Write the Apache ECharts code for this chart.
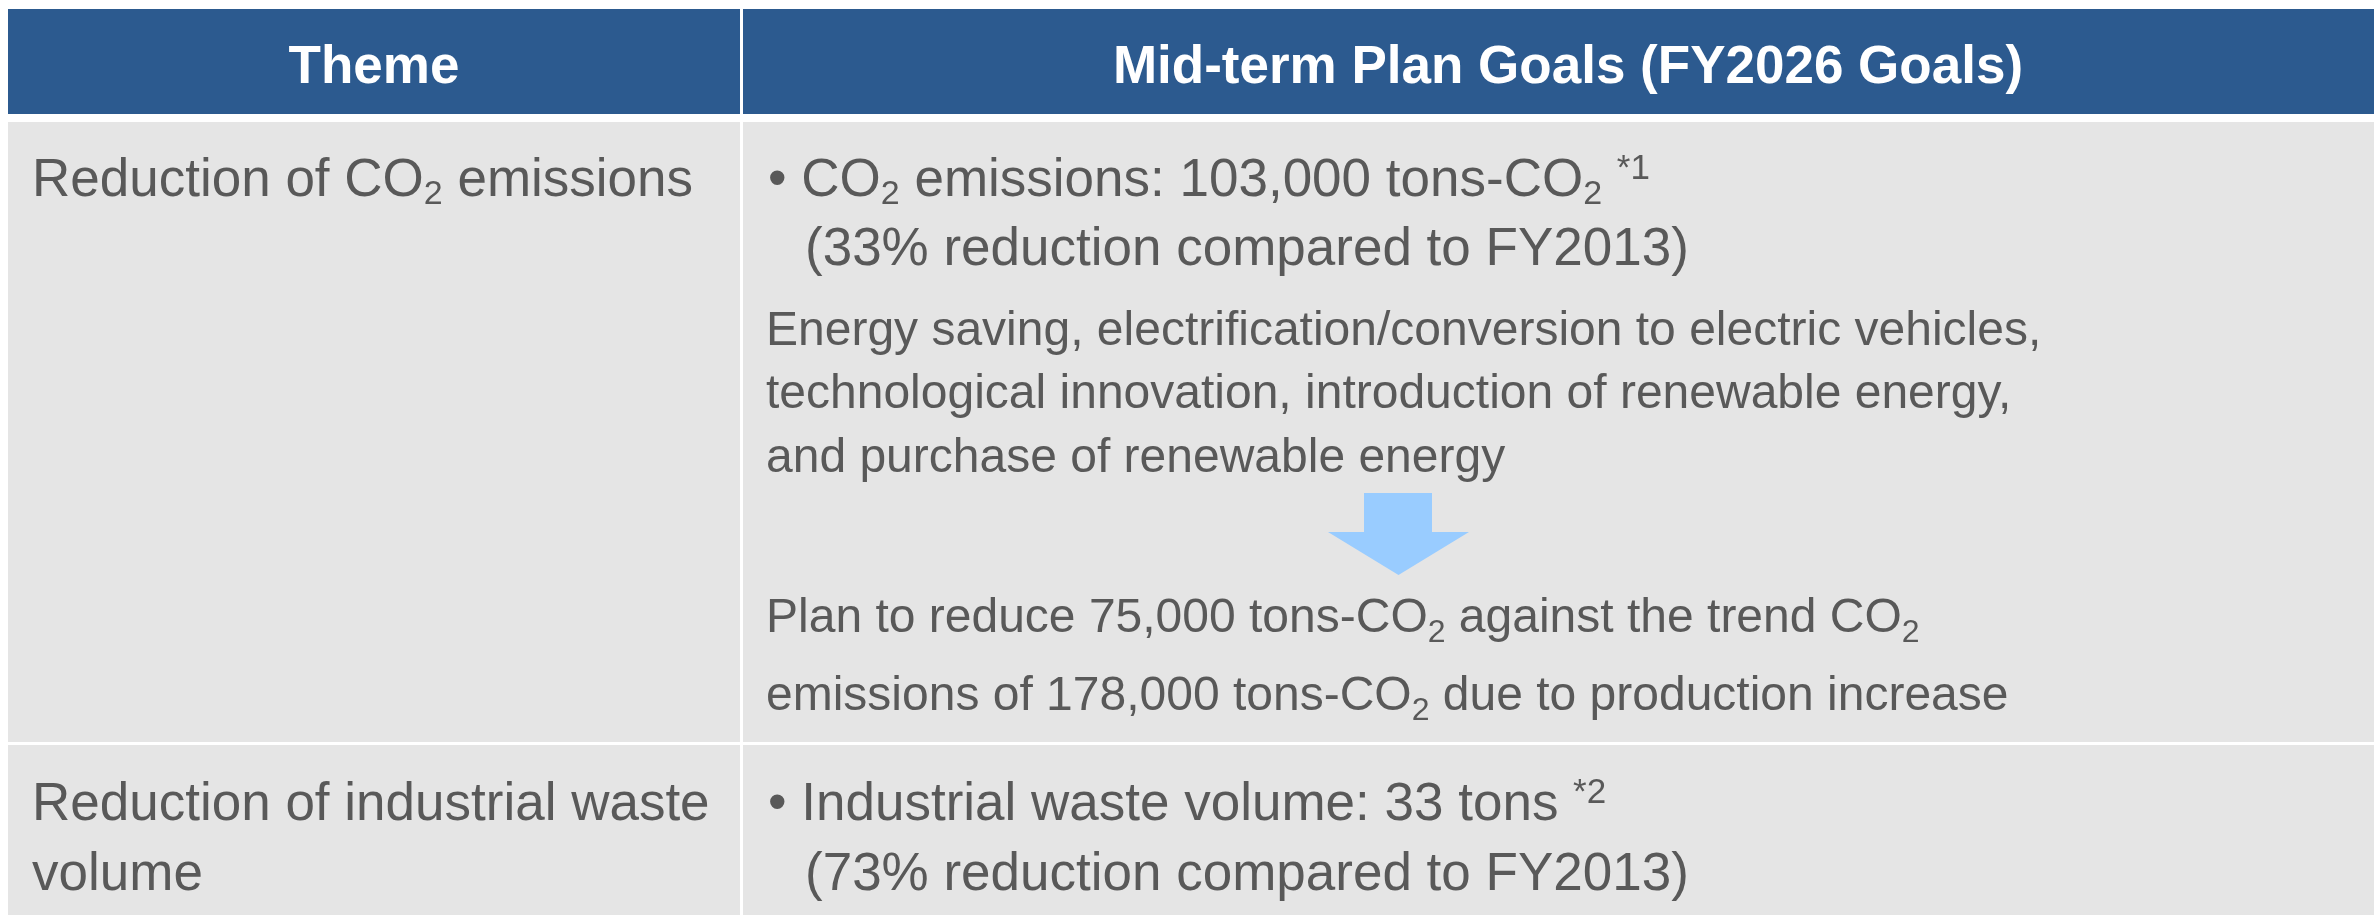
<!DOCTYPE html>
<html>
<head>
<meta charset="utf-8">
<script src="https://cdn.jsdelivr.net/npm/echarts@6/dist/echarts.min.js"></script>
<style>
  html, body { margin: 0; padding: 0; background: #fff; }
  #main { width: 2374px; height: 915px; }
</style>
</head>
<body>
<div id="main"></div>
<script>
// table content ({s|..} = subscript, {p|..} = superscript note)
var headers = ['Theme', 'Mid-term Plan Goals (FY2026 Goals)'];
var themeCo2 = ['Reduction of CO{s|2} emissions'];
var themeWaste = ['Reduction of industrial waste', 'volume'];
var goalCo2 = ['CO{s|2} emissions: 103,000 tons-CO{s|2} {p|*1}', '(33% reduction compared to FY2013)'];
var measures = [
  'Energy saving, electrification/conversion to electric vehicles,',
  'technological innovation, introduction of renewable energy,',
  'and purchase of renewable energy'
];
var planLines = [
  'Plan to reduce 75,000 tons-CO{s|2} against the trend CO{s|2}',
  'emissions of 178,000 tons-CO{s|2} due to production increase'
];
var goalWaste = ['Industrial waste volume: 33 tons {p|*2}', '(73% reduction compared to FY2013)'];

// layout
var FONT = '"Liberation Sans", Arial, sans-serif';
var TEXT = '#595959';
var HEAD = '#2C5A8F';
var CELL = '#E5E5E5';
var W = 2374;
var colLeft = 8, colSplit = 740, colRight = 743;
var headTop = 9, headBottom = 114, row1Top = 122, row1Bottom = 742, row2Top = 745, row2Bottom = 915;

function rich(size) {
  var big = size > 50;
  return {
    s: { fontSize: big ? 34 : 32, fontFamily: FONT, fill: TEXT, verticalAlign: 'bottom', lineHeight: big ? 17 : 19 },
    p: { fontSize: 35, fontFamily: FONT, fill: TEXT, verticalAlign: 'top', lineHeight: 39 }
  };
}

function line(x, y, text, size) {
  return {
    type: 'text', x: x, y: y, silent: true,
    style: {
      text: text, fontSize: size, fontFamily: FONT, fill: TEXT,
      align: 'left', verticalAlign: 'middle', lineHeight: 60,
      rich: rich(size)
    }
  };
}

function rect(x, y, w, h, color) {
  return { type: 'rect', silent: true, shape: { x: x, y: y, width: w, height: h }, style: { fill: color } };
}

var els = [];
// cells
els.push(rect(colLeft, headTop, colSplit - colLeft, headBottom - headTop, HEAD));
els.push(rect(colRight, headTop, W - colRight, headBottom - headTop, HEAD));
els.push(rect(colLeft, row1Top, colSplit - colLeft, row1Bottom - row1Top, CELL));
els.push(rect(colRight, row1Top, W - colRight, row1Bottom - row1Top, CELL));
els.push(rect(colLeft, row2Top, colSplit - colLeft, row2Bottom - row2Top, CELL));
els.push(rect(colRight, row2Top, W - colRight, row2Bottom - row2Top, CELL));

// header texts
[[(colLeft + colSplit) / 2, headers[0]], [1568, headers[1]]].forEach(function (h) {
  els.push({
    type: 'text', x: h[0], y: 68.5, silent: true,
    style: { text: h[1], fontSize: 53, fontWeight: 'bold', fontFamily: FONT, fill: '#fff', align: 'center', verticalAlign: 'middle' }
  });
});

// row 1
els.push(line(32, 181.5, themeCo2[0], 53));
els.push(line(768, 181.5, '\u2022 ' + goalCo2[0], 53));
els.push(line(805, 250.5, goalCo2[1], 53));
[331.8, 394.8, 458.8].forEach(function (y, i) { els.push(line(766, y, measures[i], 48)); });
els.push({
  type: 'polygon', silent: true,
  shape: { points: [[1364, 493], [1432, 493], [1432, 532], [1469, 532], [1398.5, 575], [1328, 532], [1364, 532]] },
  style: { fill: '#99CCFF' }
});
[618.8, 696.8].forEach(function (y, i) { els.push(line(766, y, planLines[i], 48)); });

// row 2
[805.5, 875.5].forEach(function (y, i) { els.push(line(32, y, themeWaste[i], 53)); });
els.push(line(768, 805.5, '\u2022 ' + goalWaste[0], 53));
els.push(line(805, 875.5, goalWaste[1], 53));

var chart = echarts.init(document.getElementById('main'));
chart.setOption({
  backgroundColor: '#fff',
  animation: false,
  graphic: { elements: els }
});
</script>
</body>
</html>
